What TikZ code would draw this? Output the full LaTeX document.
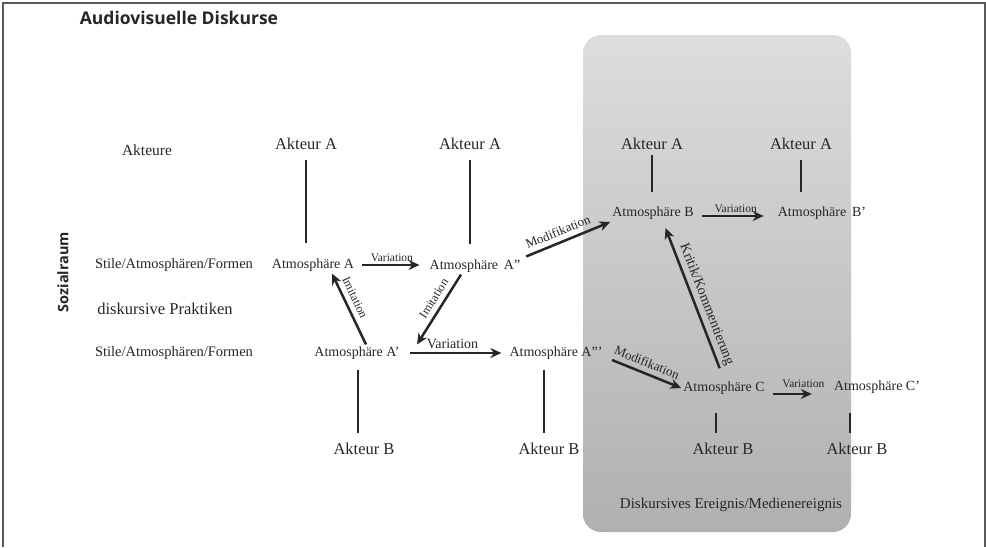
\documentclass[tikz,border=0pt]{standalone}
\usepackage{fontspec}
\setmainfont{Liberation Serif}
\newfontfamily\headfont{Open Sans}
\usepackage{tikz}
\usetikzlibrary{arrows.meta,positioning,calc}

\definecolor{inkgray}{HTML}{262626}
\definecolor{boxtop}{HTML}{DCDDDF}
\definecolor{boxbottom}{HTML}{AFB0B2}

\begin{document}
\begin{tikzpicture}[
    x=1pt, y=-1pt,
    every node/.style={inner sep=2pt, text=inkgray},
    akteur/.style={font=\fontsize{16.5}{18}\selectfont},
    atmo/.style={font=\fontsize{14}{15}\selectfont},
    rowlabel/.style={font=\fontsize{14.5}{16}\selectfont},
    lbl/.style={font=\fontsize{11.5}{12}\selectfont, inner sep=2pt},
    imitlbl/.style={font=\fontsize{12}{13}\selectfont, inner sep=5pt},
    modlbl/.style={font=\fontsize{13}{14}\selectfont, inner sep=5pt},
    biglbl/.style={font=\fontsize{14}{15}\selectfont, inner sep=3pt},
    head/.style={font=\headfont\bfseries\fontsize{17.5}{19}\selectfont},
    myline/.style={draw=inkgray, line width=2.3pt},
    myarrow/.style={draw=inkgray, line width=2.5pt, -{Stealth[length=11pt,width=10pt]}}
    ]
    \useasboundingbox (0,0) rectangle (986,547);

    % frame and shaded event box
    \draw[line width=1.6pt, draw=black!65] (3,547) -- (3,3) -- (985,3) -- (985,547);
    \shade[top color=boxtop, bottom color=boxbottom, rounded corners=18pt]
      (583,35) rectangle (851,532);

    \node[head] (title) at (179,18) {Audiovisuelle Diskurse};
    \node[head, font=\headfont\bfseries\fontsize{14.5}{16}\selectfont, rotate=90] (raum) at (63,272) {Sozialraum};

    % row labels
    \node[akteur, font=\fontsize{15.5}{17}\selectfont] (akteure) at (147,150) {Akteure};
    \node[rowlabel] (stile1) at (174,265) {Stile/Atmosphären/Formen};
    \node[akteur] (praktiken) at (165,309) {diskursive Praktiken};
    \node[rowlabel] (stile2) at (174,353) {Stile/Atmosphären/Formen};

    % actors
    \node[akteur] (aktA1) at (306,144) {Akteur A};
    \node[akteur] (aktA2) at (470,144) {Akteur A};
    \node[akteur] (aktA3) at (652,144) {Akteur A};
    \node[akteur] (aktA4) at (801,144) {Akteur A};
    \node[akteur] (aktB1) at (364,449) {Akteur B};
    \node[akteur] (aktB2) at (549,449) {Akteur B};
    \node[akteur] (aktB3) at (723,449) {Akteur B};
    \node[akteur] (aktB4) at (857,449) {Akteur B};

    % atmospheres
    \node[atmo] (atmA) at (313,265) {Atmosphäre A};
    \node[atmo] (atmAdd) at (475,266) {Atmosphäre\, A"};
    \node[atmo] (atmAp) at (357,353) {Atmosphäre A'};
    \node[atmo] (atmAddd) at (556,353) {Atmosphäre A'''};
    \node[atmo] (atmB) at (653,213) {Atmosphäre B};
    \node[atmo] (atmBp) at (822,213) {Atmosphäre\, B'};
    \node[atmo] (atmC) at (724,388) {Atmosphäre C};
    \node[atmo] (atmCp) at (877,387) {Atmosphäre C'};

    \node[akteur, font=\fontsize{15}{16}\selectfont] (event) at (731,505) {Diskursives Ereignis/Medienereignis};

    % actor lines above
    \foreach \a/\b/\s/\t in {% actor/atmosphere/shorten start/shorten end
      aktA1/atmA/8pt/13pt,
      aktA2/atmAdd/8pt/13pt,
      aktA3/atmB/3pt/12pt,
      aktA4/atmBp/8pt/12pt}
       \draw[myline, shorten <=\s, shorten >=\t] (\a) -- (\a |- \b.north);

    % actor lines below
    \foreach \u/\l/\dx/\s/\t in {% atmosphere/actor/xshift/shorten start/shorten end
      atmAp/aktB1/-6pt/8pt/8pt,
      atmAddd/aktB2/-5pt/8pt/8pt,
      atmC/aktB3/-7pt/16pt/8pt,
      atmCp/aktB4/-7pt/17pt/8pt}
       \draw[myline, shorten <=\s, shorten >=\t] ([xshift=\dx]\l.north |- \u.south) -- ([xshift=\dx]\l.north);

    % variations
    \draw[myarrow, shorten <=6pt, shorten >=8pt] (atmA.east) -- node[lbl, above] {Variation} (atmA.east -| atmAdd.west);
    \draw[myarrow, shorten <=6pt, shorten >=12pt] ([yshift=-3pt]atmB.east) -- node[lbl, above] {Variation} ([yshift=-3pt]atmB.east -| atmBp.west);
    \draw[myarrow, shorten <=8pt, shorten >=6pt] (atmAp.east) -- node[biglbl, above, xshift=-2pt] {Variation} (atmAp.east -| atmAddd.west);
    \draw[myarrow, shorten <=6pt, shorten >=20pt] ([yshift=-6pt]atmC.east) -- node[lbl, above, xshift=4pt, yshift=3pt] {Variation} ([yshift=-6pt]atmC.east -| atmCp.west);

    % imitation, modification, critique
    \draw[myarrow] ([xshift=9pt]atmAp.north) -- node[imitlbl, sloped, above, pos=0.6] {Imitation} ([xshift=19pt]atmA.south);
    \draw[myarrow] ([xshift=-14pt]atmAdd.south) -- node[imitlbl, sloped, above, pos=0.42] {Imitation} ([xshift=60pt]atmAp.north);
    \draw[myarrow, shorten <=4pt] ([yshift=8pt]atmAdd.east) -- node[modlbl, sloped, above, pos=0.45] {Modifikation} ([yshift=-9pt]atmB.west);
    \draw[myarrow, shorten <=8pt] ([yshift=-4pt]atmAddd.east) -- node[modlbl, sloped, above, pos=0.5] {Modifikation} ([yshift=0pt]atmC.west);
    \draw[myarrow, shorten <=12pt, shorten >=7pt] (atmC.north) -- node[biglbl, sloped, above, pos=0.45] {Kritik/Kommentierung} ([xshift=10pt]atmB.south);
  \end{tikzpicture}
\end{document}
